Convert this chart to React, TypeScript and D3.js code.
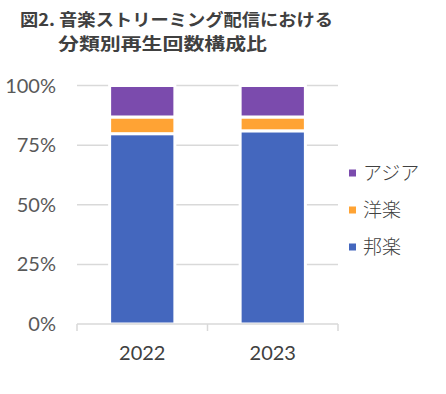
import React from 'react';
import * as d3 from 'd3';

// chart values (percent)
const years = ['2022', '2023'];
const hougaku = [79.8, 81.0];
const yougaku = [7.0, 5.8];
const asia = [13.2, 13.2];

const seriesNames = ['邦楽', '洋楽', 'アジア'];
const seriesColors = ['#4467be', '#ffa334', '#7b4bad'];
const yTicks = [0, 25, 50, 75, 100];

const width = 446;
const height = 394;
const margin = { top: 85.5, right: 108, bottom: 70, left: 77 };

export default function App() {
  const innerRight = width - margin.right;
  const innerBottom = height - margin.bottom;

  const x = d3.scaleBand<string>().domain(years).range([margin.left, innerRight]).padding(0);
  const y = d3.scaleLinear().domain([0, 100]).range([innerBottom, margin.top]);
  const color = d3.scaleOrdinal<string, string>().domain(seriesNames).range(seriesColors);

  const table = years.map((year, i) => ({ year, 邦楽: hougaku[i], 洋楽: yougaku[i], アジア: asia[i] }));
  const stacked = d3.stack<any>().keys(seriesNames)(table);

  const barW = x.bandwidth() * 0.5;
  const axisColor = '#d9d9d9';
  const textColor = '#595959';
  const numFont = 'Lato, "Noto Sans", sans-serif';
  const jpFont = '"Noto Sans CJK JP", sans-serif';

  return (
    <svg width={width} height={height} style={{ position: 'absolute', left: 0, top: 0, background: '#fff' }}>
      {/* title */}
      <text x={20} y={26} fontFamily={jpFont} fontWeight={700} fontSize={17} fill="#404040"
        textLength={313} lengthAdjust="spacingAndGlyphs">図2. 音楽ストリーミング配信における</text>
      <text x={58} y={50} fontFamily={jpFont} fontWeight={700} fontSize={17} fill="#404040"
        textLength={209} lengthAdjust="spacingAndGlyphs">分類別再生回数構成比</text>

      {/* gridlines */}
      {yTicks.filter(t => t > 0).map(t => (
        <line key={t} x1={margin.left} x2={innerRight} y1={y(t)} y2={y(t)} stroke={axisColor} strokeWidth={1.5} />
      ))}

      {/* y labels */}
      {yTicks.map(t => (
        <text key={t} x={56} y={y(t) + 7} textAnchor="end" fontFamily={numFont} fontSize={20} fill={textColor}>
          {t}%
        </text>
      ))}

      {/* bars */}
      {stacked.map(layer => (
        <g key={layer.key} fill={color(layer.key)}>
          {layer.map((d, i) => (
            <rect key={i}
              x={(x(years[i]) || 0) + (x.bandwidth() - barW) / 2}
              y={y(d[1])}
              width={barW}
              height={y(d[0]) - y(d[1])}
              stroke="#fff" strokeWidth={3} />
          ))}
        </g>
      ))}

      {/* x axis */}
      <line x1={margin.left} x2={innerRight} y1={innerBottom} y2={innerBottom} stroke={axisColor} strokeWidth={1.5} />
      {[...years.map(yr => x(yr) || 0), innerRight].map((tx, i) => (
        <line key={i} x1={tx} x2={tx} y1={innerBottom} y2={innerBottom + 7} stroke={axisColor} strokeWidth={1.5} />
      ))}
      {years.map(yr => (
        <text key={yr} x={(x(yr) || 0) + x.bandwidth() / 2} y={360} textAnchor="middle"
          fontFamily={numFont} fontSize={20} fill="#404040">{yr}</text>
      ))}

      {/* legend, top to bottom: アジア, 洋楽, 邦楽 */}
      {[...seriesNames].reverse().map((name, i) => (
        <g key={name} transform={`translate(349, ${173 + i * 37})`}>
          <rect x={0} y={-3.5} width={7} height={7} fill={color(name)} />
          <text x={14} y={7} fontFamily={jpFont} fontWeight={300} fontSize={19} fill="#404040">{name}</text>
        </g>
      ))}
    </svg>
  );
}
